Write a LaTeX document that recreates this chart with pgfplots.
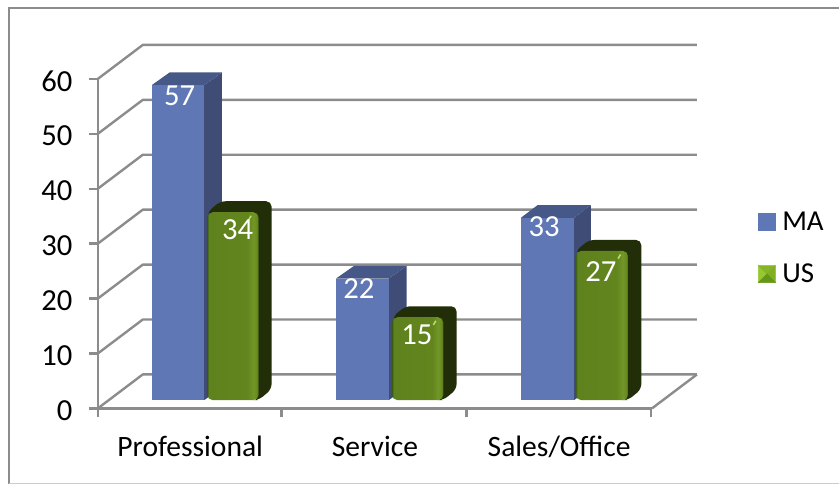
\documentclass[border=0pt]{standalone}
\usepackage{pgfplots}
\pgfplotsset{compat=1.18}
\usepackage{fontspec}
\setmainfont{Carlito}
\definecolor{axgray}{RGB}{140,140,140}
\definecolor{mafront}{RGB}{95,119,181}
\definecolor{maside}{RGB}{62,76,118}
\definecolor{matop}{RGB}{70,88,135}
\definecolor{usside}{RGB}{33,46,8}
\definecolor{ustop}{RGB}{39,53,8}
\definecolor{usglint}{RGB}{185,225,110}
\definecolor{gA}{RGB}{60,95,20}
\definecolor{gB}{RGB}{95,130,30}
\definecolor{gC}{RGB}{98,133,30}
\definecolor{gD}{RGB}{114,150,38}
\definecolor{gE}{RGB}{105,140,33}
\definecolor{gF}{RGB}{75,105,25}
\definecolor{lgL}{RGB}{150,200,50}
\definecolor{lgT}{RGB}{135,182,36}
\definecolor{lgR}{RGB}{128,176,34}
\definecolor{lgB}{RGB}{100,150,25}
\pgfdeclarehorizontalshading{greenbar}{100bp}{%
  color(0bp)=(gA);
  color(25bp)=(gA);
  color(26.5bp)=(gB);
  color(64bp)=(gC);
  color(70bp)=(gD);
  color(73bp)=(gE);
  color(75bp)=(gF);
  color(100bp)=(gF)}
\newcommand{\chartfont}{\fontsize{22.2}{26}\selectfont}
\newcommand{\legendfont}{\fontsize{21.7}{26}\selectfont}
\newcommand{\digitfont}{\fontsize{23}{26}\selectfont}
% #1 left x, #2 right x, #3 back right x, #4 value, #5 label x, #6 label y offset (px)
\newcommand{\MAbar}[6]{%
  \pgfmathsetmacro{\yF}{#4*1.00636+1.5}%
  \pgfmathsetmacro{\yB}{\yF+2.3}%
  \pgfmathsetmacro{\xL}{#1+#3-#2}%
  \pgfmathsetmacro{\yZ}{1.5+2.3}%
  \addplot[forget plot,draw=none,fill=maside] coordinates {(#2,1.5)(#3,\yZ)(#3,\yB)(#2,\yF)} --cycle;
  \addplot[forget plot,draw=none,fill=matop] coordinates {(#1,\yF)(\xL,\yB)(#3,\yB)(#2,\yF)} --cycle;
  \addplot[forget plot,draw=none,fill=mafront] coordinates {(#1,1.5)(#2,1.5)(#2,\yF)(#1,\yF)} --cycle;
  \pgfmathsetmacro{\yL}{\yF-#6/5.5}%
  \edef\temp{\noexpand\node[text=white,inner sep=0pt,anchor=center,font=\noexpand\digitfont] at (axis cs:#5,\yL) {#4};}\temp
}
\newcommand{\USbar}[6]{%
  \pgfmathsetmacro{\yF}{#4*1.00636+1.5}%
  \pgfmathsetmacro{\yB}{\yF+2.0}%
  \pgfmathsetmacro{\xL}{#1+#3-#2}%
  \pgfmathsetmacro{\yZ}{1.5+2.0}%
  \pgfmathsetmacro{\xG}{#2-10}%
  \pgfmathsetmacro{\xH}{#2-7.5}%
  \pgfmathsetmacro{\yG}{\yF-1.4}%
  \pgfmathsetmacro{\yH}{\yF-0.65}%
  \pgfmathsetmacro{\xS}{#2-6}%
  \addplot[forget plot,draw=none,fill=usside,rounded corners=4pt] coordinates {(\xS,1.5)(#2,1.5)(#3,\yZ)(#3,\yB)(\xL,\yB)(#1,\yF)} --cycle;
  \addplot[forget plot,draw=none,shade,shading=greenbar,rounded corners=4pt] coordinates {(#1,1.5)(#2,1.5)(#2,\yF)(#1,\yF)} --cycle;
  \addplot[forget plot,usglint,line width=1.1pt] coordinates {(\xG,\yG)(\xH,\yH)};
  \pgfmathsetmacro{\yL}{\yF-#6/5.5}%
  \edef\temp{\noexpand\node[text=white,inner sep=0pt,anchor=center,font=\noexpand\digitfont] at (axis cs:#5,\yL) {#4};}\temp
}
\begin{document}
\begin{tikzpicture}
\begin{axis}[
  x=0.75pt,y=4.125pt,
  xmin=98,xmax=653,ymin=0,ymax=60,
  clip=false,
  axis x line=bottom,axis y line=left,
  axis line style={axgray,line width=1.8pt,-},
  every tick/.style={axgray,line width=1.8pt},
  tick align=outside,
  major tick length=6.75pt,
  xtick={98,282,467,652},
  xticklabels={},
  extra x ticks={190.5,375.5,560},
  extra x tick labels={Professional,Service,Sales/Office},
  extra x tick style={major tick length=0pt,
    tick label style={font=\chartfont,text=black,yshift=-17pt}},
  ytick={0,10,20,30,40,50,60},
  /pgf/number format/assume math mode=true,
  y tick label style={font=\digitfont,text=black,xshift=-8.75pt,yshift=-1.5pt},
  legend style={at={(axis cs:759,36.35)},anchor=north west,draw=none,fill=none,
    font=\legendfont,row sep=20pt,inner sep=0pt,
    /tikz/every odd column/.append style={column sep=3pt}},
  legend cell align=left,
]
% outer frame
\draw[axgray,line width=1.9pt] (axis cs:840,72.9) -- (axis cs:9,72.9) -- (axis cs:9,-13.82);
\draw[black!20,line width=0.75pt] (axis cs:9,-13.73) -- (axis cs:840,-13.73);
% page extent
\path (axis cs:0,74.36) (axis cs:840,-13.82);
% walls
\foreach \v/\w in {0/6.18,10/16.18,20/26.18,30/36.18,40/46.18,50/56.18,60/66.18}{
  \edef\temp{\noexpand\draw[axgray,line width=1.8pt,line join=round] (axis cs:98,\v) -- (axis cs:143,\w) -- (axis cs:698,\w);}\temp
}
\draw[axgray,line width=1.8pt] (axis cs:653,0) -- (axis cs:698,6.18);
% bars
\MAbar{152}{204.5}{222.3}{57}{180}{10.5}
\USbar{207.7}{259}{272}{34}{238}{17}
\MAbar{336.5}{389.3}{407.3}{22}{359.5}{10}
\USbar{392.7}{444}{457.3}{15}{417.5}{18}
\MAbar{521.7}{575}{591.7}{33}{545}{9}
\USbar{576.7}{629}{642.3}{27}{601.7}{21}
% legend
\addlegendimage{legend image code/.code={
  \fill[mafront] (0,-6pt) rectangle (12.75pt,6.75pt);}}
\addlegendentry{MA}
\addlegendimage{legend image code/.code={
  \fill[lgL] (0,-6pt) -- (6.4pt,0.4pt) -- (0,6.75pt) -- cycle;
  \fill[lgT] (0,6.75pt) -- (6.4pt,0.4pt) -- (12.75pt,6.75pt) -- cycle;
  \fill[lgR] (12.75pt,6.75pt) -- (6.4pt,0.4pt) -- (12.75pt,-6pt) -- cycle;
  \fill[lgB] (0,-6pt) -- (6.4pt,0.4pt) -- (12.75pt,-6pt) -- cycle;}}
\addlegendentry{US}
\end{axis}
\end{tikzpicture}
\end{document}
